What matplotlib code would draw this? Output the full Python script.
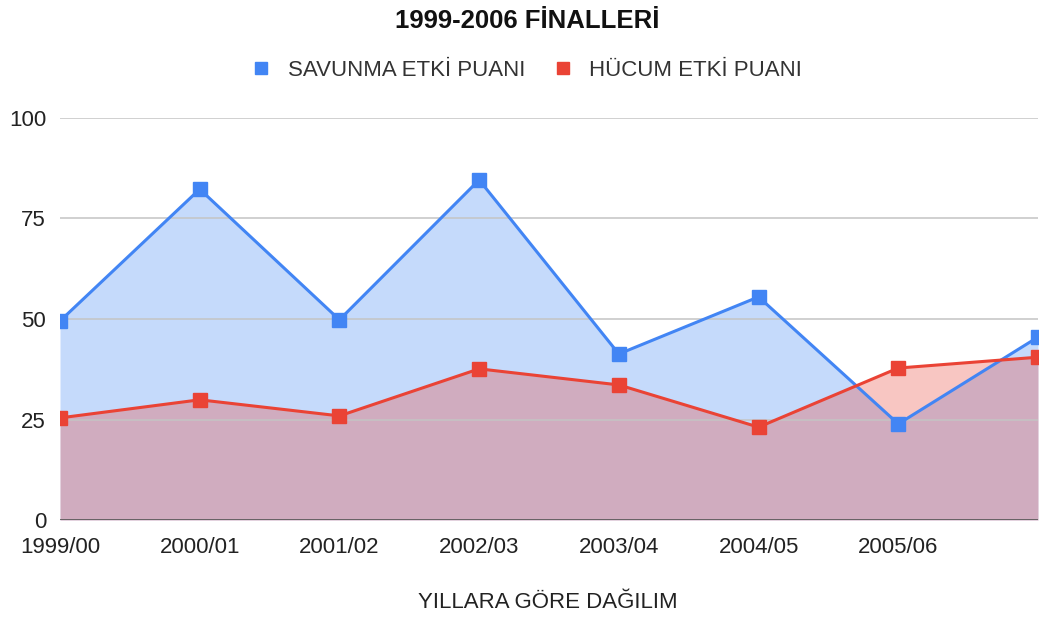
import matplotlib
matplotlib.use("Agg")
import matplotlib.pyplot as plt
from matplotlib.lines import Line2D

plt.rcParams['font.family'] = ['Liberation Sans', 'DejaVu Sans']

sezonlar = ['1999/00', '2000/01', '2001/02', '2002/03', '2003/04', '2004/05', '2005/06', '']
savunma = [49.5, 82.3, 49.8, 84.6, 41.3, 55.5, 23.9, 45.5]
hucum = [25.4, 29.9, 25.9, 37.6, 33.6, 23.1, 37.8, 40.5]

mavi = '#4285F4'
kirmizi = '#EA4335'

fig = plt.figure(figsize=(10.43, 6.17), dpi=100)
ax = fig.add_axes([60/1043, 1-520/617, 978/1043, 402/617])

x = list(range(len(sezonlar)))

ax.fill_between(x, savunma, 0, color=mavi, alpha=0.3, lw=0, zorder=1)
ax.fill_between(x, hucum, 0, color=kirmizi, alpha=0.3, lw=0, zorder=1)

for yv in [25, 50, 75, 100]:
    ax.axhline(yv, color='#c4c4c4', lw=1.1, zorder=2)
ax.axhline(0, color='#555555', lw=1.2, zorder=2)

ax.plot(x, savunma, color=mavi, lw=2.2, marker='s', ms=10, zorder=4)
ax.plot(x, hucum, color=kirmizi, lw=2.2, marker='s', ms=10, zorder=4)

ax.set_xlim(0, 7)
ax.set_ylim(0, 100)
ax.set_xticks(x[:-1])
ax.set_xticklabels(sezonlar[:-1], fontsize=16, color='#222222')
ax.set_yticks([0, 25, 50, 75, 100])
ax.set_yticklabels(['0', '25', '50', '75', '100'], fontsize=16, color='#222222')
ax.tick_params(length=0)
ax.tick_params(axis='x', pad=12)
ax.tick_params(axis='y', pad=10)
for s in ax.spines.values():
    s.set_visible(False)

fig.text(527/1043, 1-21/617, '1999-2006 FİNALLERİ', ha='center', va='center',
         fontsize=18.5, fontweight='bold', color='#111111')
fig.text(548/1043, 1-603/617, 'YILLARA GÖRE DAĞILIM', ha='center', va='center',
         fontsize=16, color='#222222')

handles = [Line2D([], [], color=mavi, marker='s', ls='none', ms=9),
           Line2D([], [], color=kirmizi, marker='s', ls='none', ms=9)]
fig.legend(handles, ['SAVUNMA ETKİ PUANI', 'HÜCUM ETKİ PUANI'], loc='center',
           bbox_to_anchor=(526/1043, 1-70/617), ncol=2, frameon=False,
           fontsize=16, handletextpad=0.7, columnspacing=1.2, handlelength=1.0,
           labelcolor='#333333')

fig.savefig('out.png', dpi=100)
